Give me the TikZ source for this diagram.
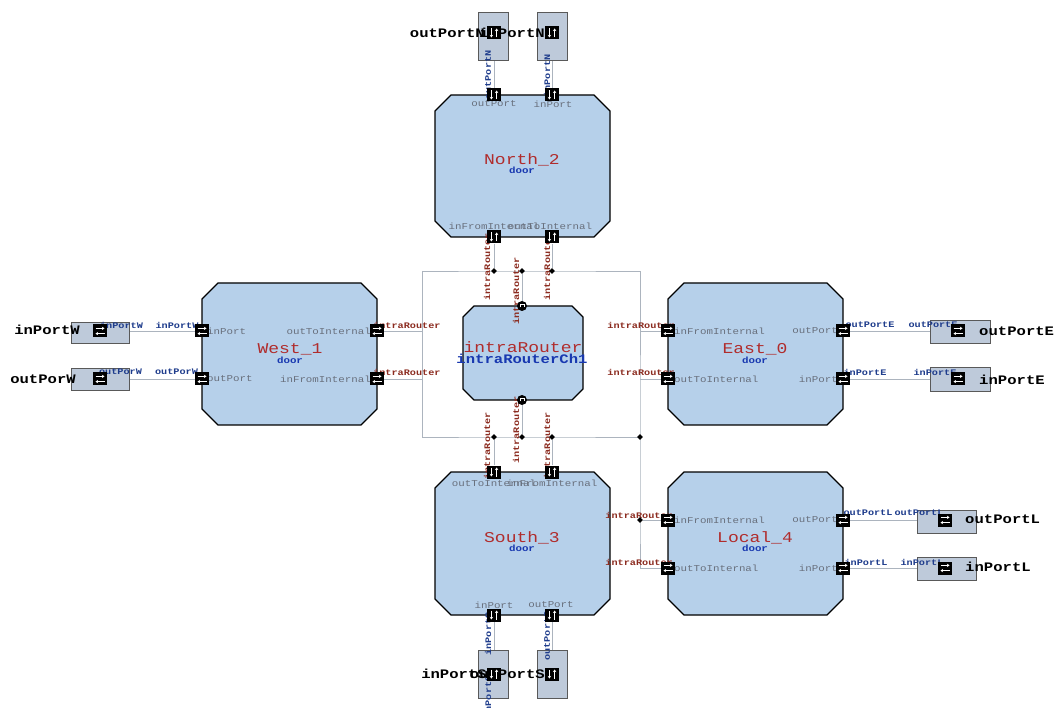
\documentclass[tikz,border=0pt]{standalone}
\usepackage{fontspec}
\newfontfamily\pf[FakeStretch=1.2]{Liberation Mono}
\usetikzlibrary{shapes.geometric,arrows.meta}
\pgfdeclarelayer{background}
\pgfsetlayers{background,main}
\definecolor{doorfill}{RGB}{182,208,234}
\definecolor{extfill}{RGB}{190,202,218}
\definecolor{wirec}{RGB}{172,180,190}
\definecolor{titlered}{RGB}{176,44,44}
\definecolor{doorblue}{RGB}{24,56,176}
\definecolor{portgray}{RGB}{105,112,125}
\definecolor{connred}{RGB}{140,44,32}
\definecolor{connblue}{RGB}{30,60,140}
\newcommand{\doorshape}[5]{\draw[doorline] (#1+#5,#2) -- (#3-#5,#2) -- (#3,#2+#5) -- (#3,#4-#5) -- (#3-#5,#4) -- (#1+#5,#4) -- (#1,#4-#5) -- (#1,#2+#5) -- cycle;}
\begin{document}
\begin{tikzpicture}[x=1pt,y=-1pt,
  wire/.style={draw=wirec, line width=0.8pt},
  doorline/.style={draw=black, line width=1.1pt, fill=doorfill},
  extbox/.style={draw=black!65, line width=0.8pt, fill=extfill, inner sep=0},
  parr/.style={white, line width=0.9pt, -{Stealth[length=2.6pt,width=3.4pt]}},
  hport/.style={fill=black, minimum width=14pt, minimum height=13pt, inner sep=0,
    path picture={
      \draw[parr] ([xshift=-4.5pt,yshift=2.6pt]path picture bounding box.center) -- ([xshift=4.5pt,yshift=2.6pt]path picture bounding box.center);
      \draw[parr] ([xshift=4.5pt,yshift=-2.6pt]path picture bounding box.center) -- ([xshift=-4.5pt,yshift=-2.6pt]path picture bounding box.center);}},
  vport/.style={fill=black, minimum width=14pt, minimum height=13pt, inner sep=0,
    path picture={
      \draw[parr] ([xshift=-2.6pt,yshift=4.5pt]path picture bounding box.center) -- ([xshift=-2.6pt,yshift=-4.5pt]path picture bounding box.center);
      \draw[parr] ([xshift=2.6pt,yshift=-4.5pt]path picture bounding box.center) -- ([xshift=2.6pt,yshift=4.5pt]path picture bounding box.center);}},
  cport/.style={circle, fill=black, minimum size=10pt, inner sep=0,
    path picture={\draw[white, line width=0.9pt] ([xshift=-2pt,yshift=-1.5pt]path picture bounding box.center) -- ([xshift=-2pt,yshift=1.5pt]path picture bounding box.center) -- ([xshift=2pt,yshift=1.5pt]path picture bounding box.center) -- ([xshift=2pt,yshift=-1.5pt]path picture bounding box.center);}},
  rel/.style={diamond, fill=black, minimum size=6pt, inner sep=0},
  title/.style={font=\pf\fontsize{15}{15}\selectfont, text=titlered, inner sep=0},
  sub/.style={font=\pf\bfseries\fontsize{9}{9}\selectfont, text=doorblue, inner sep=0},
  chsub/.style={font=\pf\bfseries\fontsize{13}{13}\selectfont, text=doorblue, inner sep=0},
  plab/.style={font=\pf\fontsize{9}{9}\selectfont, text=portgray, inner sep=0},
  rlab/.style={font=\pf\bfseries\fontsize{8.5}{8.5}\selectfont, text=connred, inner sep=0},
  blab/.style={font=\pf\bfseries\fontsize{8.5}{8.5}\selectfont, text=connblue, inner sep=0},
  elab/.style={font=\pf\bfseries\fontsize{13}{13}\selectfont, text=black, inner sep=0}
]
\useasboundingbox (0,0) rectangle (1055,708);

% ---------- door boxes ----------
\doorshape{435}{95}{610}{237}{16}
\doorshape{202}{283}{377}{425}{16}
\doorshape{668}{283}{843}{425}{16}
\doorshape{435}{472}{610}{615}{16}
\doorshape{668}{472}{843}{615}{16}
\doorshape{463}{306}{583}{400}{11}

% ---------- external port boxes ----------
\node[extbox, minimum width=30pt, minimum height=48pt] (NoB) at (493,36) {};
\node[extbox, minimum width=30pt, minimum height=48pt] (NiB) at (552,36) {};
\node[extbox, minimum width=58pt, minimum height=21pt] (WiB) at (100,333) {};
\node[extbox, minimum width=58pt, minimum height=22pt] (WoB) at (100,379) {};
\node[extbox, minimum width=60pt, minimum height=23pt] (EoB) at (960,331.5) {};
\node[extbox, minimum width=60pt, minimum height=24pt] (EiB) at (960,379) {};
\node[extbox, minimum width=59pt, minimum height=23pt] (LoB) at (946.5,521.5) {};
\node[extbox, minimum width=59pt, minimum height=23pt] (LiB) at (946.5,568.5) {};
\node[extbox, minimum width=30pt, minimum height=48pt] (SiB) at (493,674) {};
\node[extbox, minimum width=30pt, minimum height=48pt] (SoB) at (552,674) {};

% ---------- titles ----------
\node[title] (tN) at (522,160) {North\_2};
\node[sub] (sN) at (522,170) {door};
\node[title] (tW) at (290,349) {West\_1};
\node[sub] (sW) at (290,360) {door};
\node[title] (tE) at (755,349) {East\_0};
\node[sub] (sE) at (755,360) {door};
\node[title] (tS) at (522,538) {South\_3};
\node[sub] (sS) at (522,548) {door};
\node[title] (tL) at (755,538) {Local\_4};
\node[sub] (sL) at (755,548) {door};
\node[title] (tI) at (523,347) {intraRouter};
\node[chsub] (sI) at (522,359) {intraRouterCh1};

% ---------- inner port labels ----------
\node[plab] (pN1) at (494,104) {outPort};
\node[plab] (pN2) at (553,104) {inPort};
\node[plab] (pN3) at (494,226) {inFromInternal};
\node[plab] (pN4) at (550,226) {outToInternal};
\node[plab] (pS1) at (494,483) {outToInternal};
\node[plab] (pS2) at (552,483) {inFromInternal};
\node[plab] (pS3) at (494,605) {inPort};
\node[plab] (pS4) at (551,605) {outPort};
\node[plab, anchor=west] (pW1) at (207,331) {inPort};
\node[plab, anchor=west] (pW2) at (207,379) {outPort};
\node[plab, anchor=east] (pW3) at (371,331) {outToInternal};
\node[plab, anchor=east] (pW4) at (371,379) {inFromInternal};
\node[plab, anchor=west] (pE1) at (674,331) {inFromInternal};
\node[plab, anchor=west] (pE2) at (674,379) {outToInternal};
\node[plab, anchor=east] (pE3) at (838,331) {outPort};
\node[plab, anchor=east] (pE4) at (838,379) {inPort};
\node[plab, anchor=west] (pL1) at (674,520) {inFromInternal};
\node[plab, anchor=west] (pL2) at (674,568) {outToInternal};
\node[plab, anchor=east] (pL3) at (838,520) {outPort};
\node[plab, anchor=east] (pL4) at (838,568) {inPort};

% ---------- connection labels (red) ----------
\node[rlab, anchor=west] (lW1) at (373,325) {intraRouter};
\node[rlab, anchor=west] (lW2) at (373,372) {intraRouter};
\node[rlab, anchor=east] (lE1) at (675,325) {intraRouter};
\node[rlab, anchor=east] (lE2) at (675,372) {intraRouter};
\node[rlab, anchor=east] (lL1) at (673,515) {intraRouter};
\node[rlab, anchor=east] (lL2) at (673,562) {intraRouter};
\node[rlab, rotate=90] (lN1) at (487,267) {intraRouter};
\node[rlab, rotate=90] (lN2) at (547,267) {intraRouter};
\node[rlab, rotate=90] (lI1) at (516,291) {intraRouter};
\node[rlab, rotate=90] (lI2) at (516,430) {intraRouter};
\node[rlab, rotate=90] (lS1) at (487,446) {intraRouter};
\node[rlab, rotate=90] (lS2) at (547,446) {intraRouter};

% ---------- connection labels (blue) ----------
\node[blab] (bW1) at (121.5,325) {inPortW};
\node[blab] (bW2) at (177,325) {inPortW};
\node[blab] (bW3) at (120.5,372) {outPorW};
\node[blab] (bW4) at (176.5,372) {outPorW};
\node[blab] (bE1) at (870,325) {outPortE};
\node[blab] (bE2) at (933,325) {outPortE};
\node[blab] (bE3) at (865,372) {inPortE};
\node[blab] (bE4) at (935,372) {inPortE};
\node[blab] (bL1) at (868,513) {outPortL};
\node[blab] (bL2) at (919,513) {outPortL};
\node[blab] (bL3) at (866,562) {inPortL};
\node[blab] (bL4) at (922,562) {inPortL};
\node[blab, rotate=90] (bN1) at (488,75) {outPortN};
\node[blab, rotate=90] (bN2) at (547,76) {inPortN};
\node[blab, rotate=90] (bS1) at (488,634) {inPortS};
\node[blab, rotate=90] (bS2) at (488,697) {inPortS};
\node[blab, rotate=90] (bS3) at (547,636) {outPortS};

% ---------- external box labels ----------
\node[elab, anchor=east] (NoL) at (485,33) {outPortN};
\node[elab, anchor=east] (NiL) at (545,33) {inPortN};
\node[elab, anchor=east] (WiL) at (80,330) {inPortW};
\node[elab, anchor=east] (WoL) at (76,379) {outPorW};
\node[elab, anchor=west] (EoL) at (979,331) {outPortE};
\node[elab, anchor=west] (EiL) at (979,380) {inPortE};
\node[elab, anchor=west] (LoL) at (965,519) {outPortL};
\node[elab, anchor=west] (LiL) at (965,567) {inPortL};
\node[elab, anchor=east] (SiL) at (487,674) {inPortS};
\node[elab, anchor=east] (SoL) at (545,674) {outPortS};

% ---------- ports ----------
\node[vport] (NoI) at (494,33) {};
\node[vport] (NiI) at (552,33) {};
\node[hport] (WiI) at (100,331) {};
\node[hport] (WoI) at (100,379) {};
\node[hport] (EoI) at (958,331) {};
\node[hport] (EiI) at (958,379) {};
\node[hport] (LoI) at (945,520) {};
\node[hport] (LiI) at (945,568) {};
\node[vport] (SiI) at (494,674) {};
\node[vport] (SoI) at (552,674) {};

\node[vport] (Nout) at (494,95) {};
\node[vport] (Nin) at (552,95) {};
\node[vport] (NinF) at (494,237) {};
\node[vport] (NoutT) at (552,237) {};
\node[hport] (Win) at (202,331) {};
\node[hport] (Wout) at (202,379) {};
\node[hport] (WoutT) at (377,331) {};
\node[hport] (WinF) at (377,379) {};
\node[hport] (EinF) at (668,331) {};
\node[hport] (EoutT) at (668,379) {};
\node[hport] (Eout) at (843,331) {};
\node[hport] (Ein) at (843,379) {};
\node[hport] (LinF) at (668,520) {};
\node[hport] (LoutT) at (668,568) {};
\node[hport] (Lout) at (843,520) {};
\node[hport] (Lin) at (843,568) {};
\node[vport] (SoutT) at (494,472) {};
\node[vport] (SinF) at (552,472) {};
\node[vport] (Sin) at (494,615) {};
\node[vport] (Sout) at (552,615) {};
\node[cport] (IRt) at (522,306) {};
\node[cport] (IRb) at (522,400) {};

% ---------- relations ----------
\node[rel] (R1) at (494,271) {};
\node[rel] (R2) at (522,271) {};
\node[rel] (R3) at (552,271) {};
\node[rel] (R4) at (494,437) {};
\node[rel] (R5) at (522,437) {};
\node[rel] (R6) at (552,437) {};
\node[rel] (R7) at (640,437) {};
\node[rel] (R8) at (640,520) {};
\coordinate (cTL) at (422,271);
\coordinate (cTR) at (640,271);
\coordinate (cBL) at (422,437);
\coordinate (cLL) at (640,568);

% ---------- wires ----------
\begin{pgfonlayer}{background}
\fill[white] (0,0) rectangle (1055,708);
\draw[wire] (NoI) -- (Nout);
\draw[wire] (NiI) -- (Nin);
\draw[wire] (WiI) -- (Win);
\draw[wire] (WoI) -- (Wout);
\draw[wire] (Eout) -- (EoI);
\draw[wire] (Ein) -- (EiI);
\draw[wire] (Lout) -- (LoI);
\draw[wire] (Lin) -- (LiI);
\draw[wire] (Sin) -- (SiI);
\draw[wire] (Sout) -- (SoI);
\draw[wire] (cTL) -- (R1.center) -- (R2.center) -- (R3.center) -- (cTR) -- (R7.center) -- (R8.center) -- (cLL) -- (LoutT);
\draw[wire] (cTL) -- (cBL) -- (R4.center) -- (R5.center) -- (R6.center) -- (R7.center);
\draw[wire] (NinF) -- (R1);
\draw[wire] (NoutT) -- (R3);
\draw[wire] (IRt) -- (R2);
\draw[wire] (IRb) -- (R5);
\draw[wire] (SoutT) -- (R4);
\draw[wire] (SinF) -- (R6);
\draw[wire] (WoutT) -- (WoutT -| cTL);
\draw[wire] (WinF) -- (WinF -| cTL);
\draw[wire] (EinF) -- (EinF -| cTR);
\draw[wire] (EoutT) -- (EoutT -| cTR);
\draw[wire] (LinF) -- (R8);
\end{pgfonlayer}
\end{tikzpicture}
\end{document}
